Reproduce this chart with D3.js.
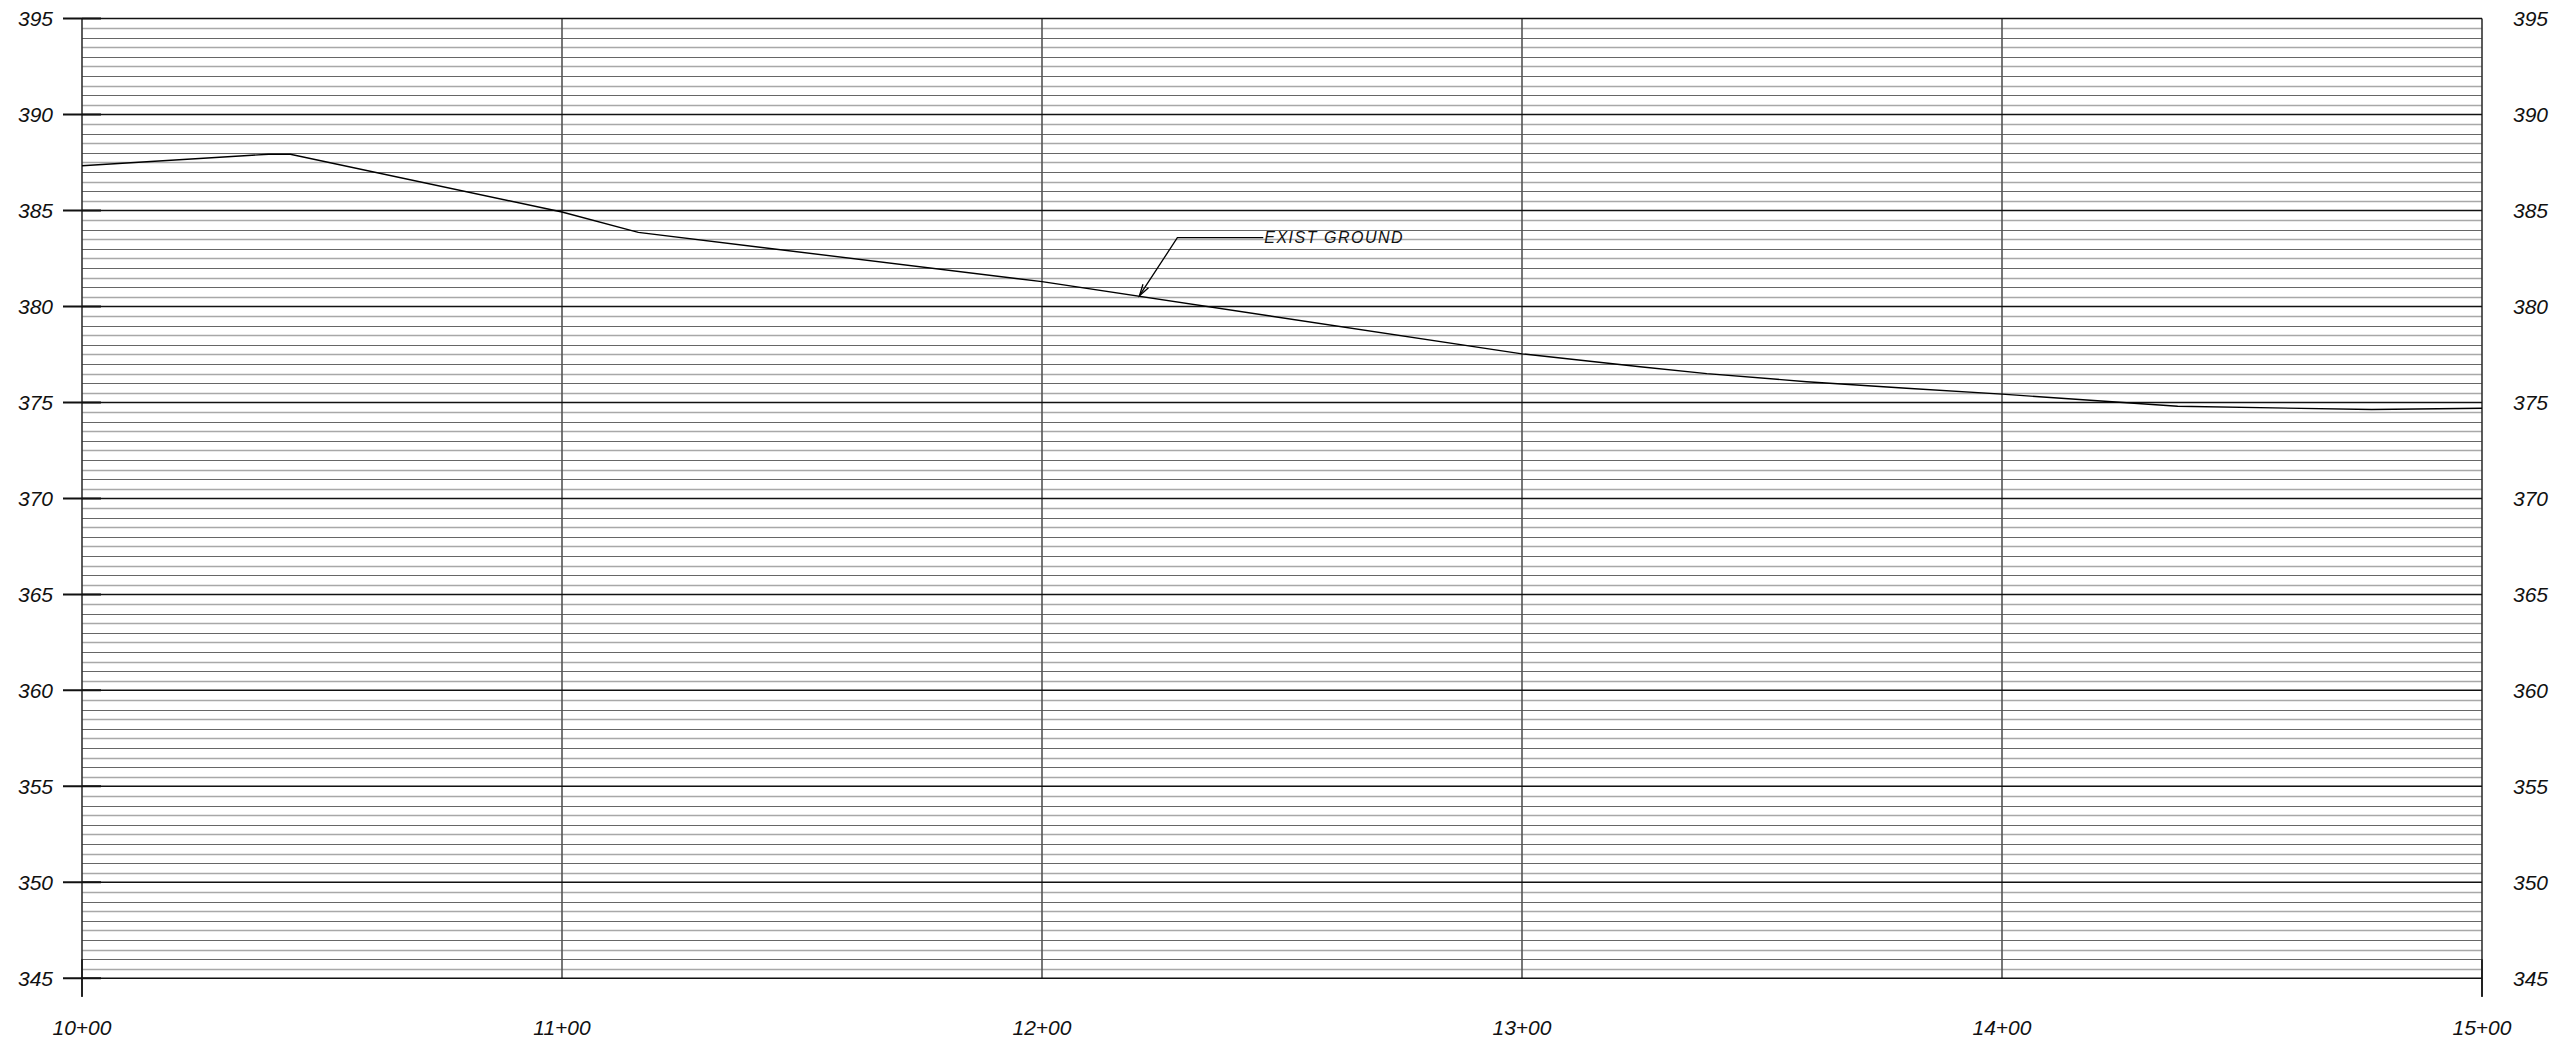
<!DOCTYPE html>
<html>
<head>
<meta charset="utf-8">
<script src="https://cdn.jsdelivr.net/npm/d3@7"></script>
<style>
  html, body { margin: 0; padding: 0; background: #fff; }
  svg { display: block; }
  text { font-family: "Liberation Sans", "DejaVu Sans", sans-serif; font-style: italic; fill: #111; }
</style>
</head>
<body>
<script>
// ---- data ----
const stations   = [1000, 1038.9, 1043.4, 1100, 1115.9, 1200, 1300, 1324.6, 1338.5, 1359.3, 1380.1, 1400, 1436.6, 1477, 1500];
const elevations = [387.33, 387.93, 387.93, 384.92, 383.86, 381.29, 377.53, 376.86, 376.50, 376.08, 375.74, 375.43, 374.80, 374.63, 374.70];
const stationTicks = [1000, 1100, 1200, 1300, 1400, 1500];
const stationLabels = ["10+00", "11+00", "12+00", "13+00", "14+00", "15+00"];
const elevTicks = [345, 350, 355, 360, 365, 370, 375, 380, 385, 390, 395];
const annoText = "EXIST GROUND";
const annoTip = [1220.3, 380.56];      // station, elevation of arrow tip
const annoElbow = [1228.2, 383.58];
const annoEnd = [1246.1, 383.58];

// ---- layout ----
const W = 2566, H = 1043;
const x = d3.scaleLinear().domain([1000, 1500]).range([82, 2482]);
const y = d3.scaleLinear().domain([345, 395]).range([978.3, 18.5]);

const svg = d3.select("body").append("svg").attr("width", W).attr("height", H);

// minor horizontal grid (every 0.5)
const minor = d3.range(345.5, 395, 0.5).filter(v => v % 5 !== 0);
svg.append("g").selectAll("line").data(minor).join("line")
  .attr("x1", x(1000)).attr("x2", x(1500))
  .attr("y1", d => Math.round(y(d)) + 0.5).attr("y2", d => Math.round(y(d)) + 0.5)
  .attr("stroke", d => (d % 1 === 0) ? "#666" : "#a8a8a8")
  .attr("stroke-width", d => (d % 1 === 0) ? 1.1 : 1.4);

// vertical station lines
const ends = d => d === 1000 || d === 1500;
svg.append("g").selectAll("line").data(stationTicks).join("line")
  .attr("x1", d => x(d)).attr("x2", d => x(d))
  .attr("y1", y(395)).attr("y2", d => ends(d) ? y(345) + 18.5 : y(345))
  .attr("stroke", d => ends(d) ? "#333" : "#555")
  .attr("stroke-width", 1.6);

// end station ticks at bottom
svg.append("g").selectAll("line").data(stationTicks.filter(ends)).join("line")
  .attr("x1", d => x(d)).attr("x2", d => x(d))
  .attr("y1", y(345) - 19).attr("y2", y(345) + 18.5)
  .attr("stroke", "#222").attr("stroke-width", 2);

// major horizontal lines
svg.append("g").selectAll("line").data(elevTicks).join("line")
  .attr("x1", x(1000)).attr("x2", x(1500))
  .attr("y1", d => y(d)).attr("y2", d => y(d))
  .attr("stroke", "#111").attr("stroke-width", 1.5);

// left tick marks
svg.append("g").selectAll("line").data(elevTicks).join("line")
  .attr("x1", x(1000) - 19).attr("x2", x(1000) + 19)
  .attr("y1", d => y(d)).attr("y2", d => y(d))
  .attr("stroke", "#111").attr("stroke-width", 2);

// left labels
svg.append("g").selectAll("text").data(elevTicks).join("text")
  .attr("x", 53).attr("y", d => y(d)).attr("dy", "0.36em")
  .attr("text-anchor", "end").attr("font-size", 21).text(d => d);

// right labels
svg.append("g").selectAll("text").data(elevTicks).join("text")
  .attr("x", 2513).attr("y", d => y(d)).attr("dy", "0.36em")
  .attr("text-anchor", "start").attr("font-size", 21).text(d => d);

// bottom labels
svg.append("g").selectAll("text").data(stationTicks).join("text")
  .attr("x", d => x(d)).attr("y", 1027.5).attr("dy", "0.36em")
  .attr("text-anchor", "middle").attr("font-size", 21)
  .text((d, i) => stationLabels[i]);

// ground line
const line = d3.line().x(d => x(d[0])).y(d => y(d[1]));
svg.append("path")
  .datum(stations.map((s, i) => [s, elevations[i]]))
  .attr("d", line)
  .attr("fill", "none").attr("stroke", "#000").attr("stroke-width", 1.4);

// annotation leader
const tip = [x(annoTip[0]), y(annoTip[1])];
const elb = [x(annoElbow[0]), y(annoElbow[1])];
const end = [x(annoEnd[0]), y(annoEnd[1])];
svg.append("path")
  .attr("d", `M${end[0]},${end[1]}L${elb[0]},${elb[1]}L${tip[0]},${tip[1]}`)
  .attr("fill", "none").attr("stroke", "#000").attr("stroke-width", 1.3);
// open arrowhead
const ang = Math.atan2(elb[1] - tip[1], elb[0] - tip[0]);
const al = 12, aw = 0.28;
const p1 = [tip[0] + al * Math.cos(ang + aw), tip[1] + al * Math.sin(ang + aw)];
const p2 = [tip[0] + al * Math.cos(ang - aw), tip[1] + al * Math.sin(ang - aw)];
svg.append("path")
  .attr("d", `M${p1[0]},${p1[1]}L${tip[0]},${tip[1]}L${p2[0]},${p2[1]}`)
  .attr("fill", "none").attr("stroke", "#000").attr("stroke-width", 1.3);

svg.append("text")
  .attr("x", end[0] + 1).attr("y", end[1]).attr("dy", "0.36em")
  .attr("font-size", 16).attr("letter-spacing", 1.5)
  .text(annoText);
</script>
</body>
</html>
